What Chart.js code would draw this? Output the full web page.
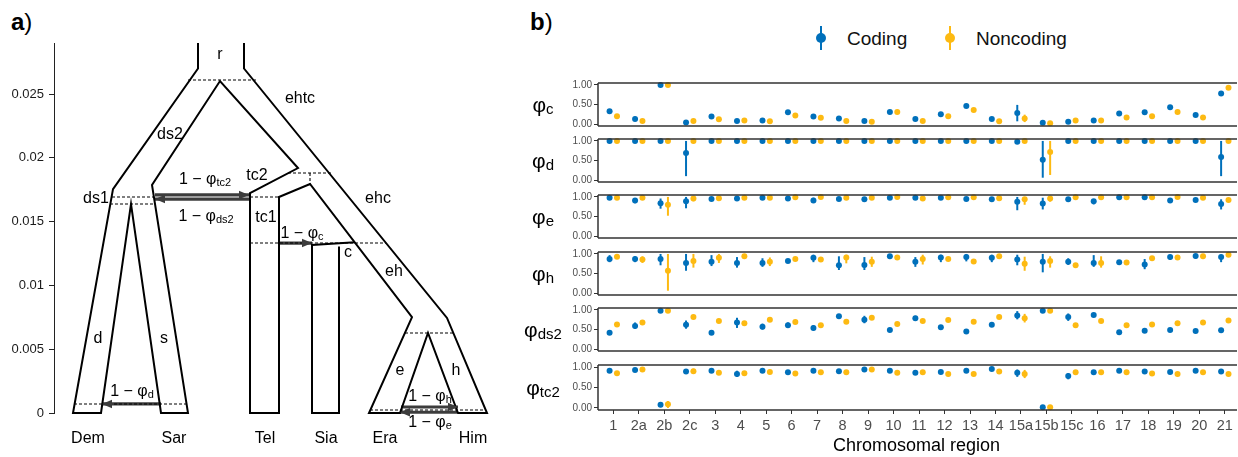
<!DOCTYPE html>
<html><head><meta charset="utf-8">
<script src="https://cdn.jsdelivr.net/npm/chart.js@4.4.1/dist/chart.umd.min.js"></script>
<style>
html,body{margin:0;padding:0;background:#fff;width:1238px;height:457px;overflow:hidden;position:relative;font-family:"Liberation Sans",Arial,sans-serif}
.cv{position:absolute}
.tag{position:absolute;font-size:24px;color:#000;line-height:1;white-space:nowrap}
.lg{position:absolute;font-size:19px;color:#111;line-height:1;white-space:nowrap}
.lgline{position:absolute;width:2px;height:24px;top:26px}
.lgdot{position:absolute;width:10px;height:10px;border-radius:50%;top:32.5px}
</style></head><body>
<div class="tag" style="left:11px;top:10px"><b>a</b>)</div>
<div class="tag" style="left:530px;top:10px"><b>b</b>)</div>

<div class="lgline" style="left:820px;background:#0070bb"></div>
<div class="lgdot" style="left:816px;background:#0070bb"></div>
<div class="lg" style="left:847px;top:29px">Coding</div>
<div class="lgline" style="left:949px;background:#fdba12"></div>
<div class="lgdot" style="left:945px;background:#fdba12"></div>
<div class="lg" style="left:976px;top:29px">Noncoding</div>

<canvas id="tree" class="cv" style="left:0;top:0" width="520" height="457"></canvas>
<canvas id="f0" class="cv"></canvas>
<canvas id="f1" class="cv"></canvas>
<canvas id="f2" class="cv"></canvas>
<canvas id="f3" class="cv"></canvas>
<canvas id="f4" class="cv"></canvas>
<canvas id="f5" class="cv"></canvas>
<script>
// ---------------- data: panel a (population tree, x = layout position, y = time) ----------------
const TIME_TICKS = [0, 0.005, 0.01, 0.015, 0.02, 0.025];
const treeOutline = [[198,0.029],[198,0.0270],[113,0.01755],[73,0],[101,0],[131,0.01638],[161,0],[188,0],[152,0.01787],[220,0.02602],[298,0.0192],[250,0.01724],[250,0],[279,0],[279,0.01693],[310,0.01795],[412,0.00752],[369,0],[400,0],[428,0.00627],[458,0],[487,0],[447,0.00745],[244,0.0270],[244,0.029]];
const siaOutline = [[355,0.01338],[312,0.01317],[312,0],[339,0],[339,0.01305]];
const splitLines = [
  [[188,0.0261],[256,0.0261]],
  [[112,0.01693],[154,0.01693]],
  [[110,0.01638],[154,0.01638]],
  [[250,0.01693],[279,0.01693]],
  [[288,0.01881],[331,0.01881]],
  [[310,0.01881],[310,0.01795]],
  [[250,0.01332],[386,0.01332]],
  [[405,0.00627],[453,0.00627]],
  [[74,0.00071],[187,0.00071]],
  [[370,0.00024],[486,0.00024]]
];
const migrationArrows = [
  [[161,0.00071],[102,0.00071]],
  [[155,0.01709],[249,0.01709]],
  [[249,0.01677],[155,0.01677]],
  [[279,0.01332],[312,0.01332]],
  [[401,0.00047],[458,0.00047]],
  [[457,0.00006],[400,0.00006]]
];
const branchLabels = ['r','ds2','ehtc','tc2','ds1','tc1','ehc','c','eh','d','s','e','h'];
const branchLabelX = [220,170,300,257,96,266,378,348,394,98,164,400,456];
const branchLabelY = [0.02806,0.02179,0.02461,0.01857,0.01677,0.01528,0.01677,0.01254,0.01105,0.0058,0.0058,0.00329,0.00329];
const populations = ['Dem','Sar','Tel','Sia','Era','Him'];
const populationX = [88,174,265,326,385,473];
const migrationSubs = ['d','tc2','ds2','c','h','e'];
const migrationLabelX = [132,205,206,302,430,430];
const migrationLabelY = [0.0018,0.01842,0.01552,0.01418,0.00145,-0.00066];

// ---------------- data: panel b ----------------
const CATEGORIES = ['1','2a','2b','2c','3','4','5','6','7','8','9','10','11','12','13','14','15a','15b','15c','16','17','18','19','20','21'];
const Y_TICKS = [0, 0.25, 0.5, 0.75, 1];
const SERIES = ['Coding','Noncoding'];

const phiC_coding    = [0.33,0.13,1.00,0.04,0.19,0.08,0.09,0.30,0.19,0.14,0.08,0.31,0.13,0.25,0.46,0.13,0.28,0.03,0.06,0.09,0.27,0.30,0.43,0.23,0.78];
const phiC_noncoding = [0.20,0.08,1.00,0.08,0.12,0.09,0.07,0.22,0.16,0.08,0.06,0.31,0.08,0.20,0.36,0.07,0.14,0.02,0.09,0.09,0.17,0.20,0.31,0.17,0.93];
const phiC_codingCI    = {'2a':[0.09,0.19],'15a':[0.07,0.49],'21':[0.73,0.83]};
const phiC_noncodingCI = {'15a':[0.05,0.24]};

const phiD_coding    = [1,1,1,0.69,1,1,1,1,1,1,1,1,1,1,1,1,0.98,0.52,1,1,1,1,1,1,0.59];
const phiD_noncoding = [1,1,1,1,1,1,1,1,1,1,1,1,1,1,1,1,1,0.72,1,1,1,1,1,1,1];
const phiD_codingCI    = {'2c':[0.10,1],'15b':[0.06,1],'21':[0.10,1]};
const phiD_noncodingCI = {'15b':[0.13,1]};

const phiE_coding    = [0.98,0.91,0.84,0.89,0.95,0.96,0.98,0.96,0.91,0.95,0.94,0.98,0.98,0.98,0.95,0.94,0.88,0.83,0.94,0.89,0.99,0.99,0.91,0.92,0.82];
const phiE_noncoding = [0.98,0.98,0.80,0.96,0.97,0.98,0.98,0.99,1.00,0.98,0.98,1.00,0.96,0.99,0.99,0.97,0.94,0.96,0.99,0.99,0.99,0.99,1.00,0.98,0.92];
const phiE_codingCI    = {'2a':[0.84,0.97],'2b':[0.70,0.96],'2c':[0.71,1],'7':[0.85,0.98],'8':[0.90,1],'9':[0.90,0.99],'15a':[0.66,1],'15b':[0.68,0.98],'16':[0.81,0.94],'21':[0.68,0.94]};
const phiE_noncodingCI = {'2b':[0.52,1],'2c':[0.89,1],'15a':[0.80,1],'15b':[0.88,1]};

const phiH_coding    = [0.87,0.87,0.87,0.77,0.80,0.77,0.77,0.82,0.90,0.71,0.72,0.94,0.80,0.91,0.92,0.90,0.86,0.80,0.80,0.77,0.79,0.73,0.92,0.95,0.92];
const phiH_noncoding = [0.93,0.86,0.57,0.82,0.90,0.94,0.80,0.87,0.86,0.91,0.80,0.91,0.87,0.87,0.81,0.94,0.75,0.82,0.71,0.77,0.78,0.89,0.91,0.94,0.98];
const phiH_codingCI    = {'1':[0.79,0.97],'2a':[0.79,0.94],'2b':[0.71,1],'2c':[0.57,1],'3':[0.69,0.97],'4':[0.65,0.92],'5':[0.67,0.89],'7':[0.79,0.98],'8':[0.59,0.94],'9':[0.59,0.92],'10':[0.87,0.98],'11':[0.67,0.92],'12':[0.79,0.98],'13':[0.81,1],'14':[0.79,0.98],'15a':[0.71,0.98],'15b':[0.53,1],'15c':[0.72,0.89],'16':[0.67,0.97],'18':[0.61,0.87],'19':[0.85,0.98],'20':[0.88,1],'21':[0.79,0.98]};
const phiH_noncodingCI = {'2a':[0.77,0.94],'2b':[0.06,1],'2c':[0.65,1],'3':[0.77,1],'4':[0.87,1],'5':[0.69,0.91],'8':[0.76,0.98],'9':[0.67,0.93],'11':[0.73,0.98],'14':[0.88,0.98],'15a':[0.57,0.93],'15b':[0.65,0.94],'16':[0.65,0.94],'20':[0.87,1]};

const phiDs2_coding    = [0.42,0.59,0.98,0.62,0.42,0.68,0.57,0.61,0.54,0.84,0.75,0.49,0.79,0.56,0.45,0.62,0.86,0.98,0.82,0.87,0.43,0.47,0.49,0.46,0.48];
const phiDs2_noncoding = [0.63,0.68,0.98,0.82,0.72,0.66,0.75,0.69,0.61,0.70,0.80,0.64,0.72,0.74,0.70,0.82,0.79,0.98,0.61,0.72,0.61,0.63,0.66,0.68,0.73];
const phiDs2_codingCI    = {'2a':[0.52,0.68],'2c':[0.52,0.73],'4':[0.54,0.80],'5':[0.50,0.65],'6':[0.55,0.68],'7':[0.48,0.61],'9':[0.66,0.85],'11':[0.73,0.85],'15a':[0.76,0.97],'15c':[0.72,0.91],'21':[0.43,0.54]};
const phiDs2_noncodingCI = {'15a':[0.68,0.90]};

const phiTc2_coding    = [0.91,0.93,0.08,0.89,0.91,0.83,0.91,0.87,0.91,0.90,0.94,0.91,0.86,0.88,0.91,0.95,0.86,0.02,0.78,0.87,0.91,0.89,0.88,0.91,0.89];
const phiTc2_noncoding = [0.85,0.94,0.09,0.90,0.86,0.85,0.88,0.84,0.87,0.87,0.94,0.86,0.87,0.83,0.83,0.89,0.83,0.02,0.87,0.87,0.87,0.84,0.83,0.87,0.83];
const phiTc2_codingCI    = {'2b':[0.02,0.13],'2c':[0.83,0.94],'4':[0.76,0.91],'15a':[0.76,0.94],'15c':[0.70,0.85]};
const phiTc2_noncodingCI = {'2b':[0,0.17],'2c':[0.84,0.96],'15a':[0.73,0.93]};

const facetSubscripts = ['c','d','e','h','ds2','tc2'];

// ---------------- styling ----------------
const FONT = '"Liberation Sans", Arial, sans-serif';
const BLUE = '#0070bb', YELLOW = '#fdba12';
const DODGE = 0.145;
Chart.defaults.font.family = FONT;
Chart.defaults.animation = false;

function richText(ctx, main, sub, x, y, mainSize, subSize, subDrop, align) {
  ctx.save();
  ctx.font = mainSize + 'px ' + FONT;
  const w1 = ctx.measureText(main).width;
  ctx.font = subSize + 'px ' + FONT;
  const w2 = sub ? ctx.measureText(sub).width : 0;
  let x0 = align === 'center' ? x - (w1 + w2) / 2 : x;
  ctx.textBaseline = 'alphabetic';
  ctx.textAlign = 'left';
  ctx.fillStyle = '#000';
  ctx.font = mainSize + 'px ' + FONT;
  ctx.fillText(main, x0, y);
  if (sub) { ctx.font = subSize + 'px ' + FONT; ctx.fillText(sub, x0 + w1, y + subDrop); }
  ctx.restore();
}

// ---------------- panel a ----------------
const pts = a => a.map(p => ({x: p[0], y: p[1]}));
const treeDatasets = [];
treeDatasets.push({data: pts(treeOutline), borderColor: '#000', borderWidth: 2});
treeDatasets.push({data: pts(siaOutline), borderColor: '#000', borderWidth: 2});
splitLines.forEach(l => treeDatasets.push({data: pts(l), borderColor: '#000', borderWidth: 1.1, borderDash: [3, 2]}));
migrationArrows.forEach(l => treeDatasets.push({data: pts(l), borderColor: '#3c3c3c', borderWidth: 3.2, isArrow: true}));
treeDatasets.forEach(d => { d.showLine = true; d.pointRadius = 0; d.fill = false; d.tension = 0; d.clip = false; d.borderCapStyle = 'butt'; d.borderJoinStyle = 'miter'; });

const treePlugin = {
  id: 'treeDecor',
  afterDatasetsDraw(chart) {
    const ctx = chart.ctx, xs = chart.scales.x, ys = chart.scales.y;
    chart.data.datasets.forEach(ds => {
      if (!ds.isArrow) return;
      const n = ds.data.length;
      const x1 = xs.getPixelForValue(ds.data[n - 2].x), y1 = ys.getPixelForValue(ds.data[n - 2].y);
      const x2 = xs.getPixelForValue(ds.data[n - 1].x), y2 = ys.getPixelForValue(ds.data[n - 1].y);
      const ang = Math.atan2(y2 - y1, x2 - x1), L = 10, W = 4.2;
      ctx.save();
      ctx.fillStyle = '#3c3c3c';
      ctx.beginPath();
      ctx.moveTo(x2, y2);
      ctx.lineTo(x2 - L * Math.cos(ang) + W * Math.sin(ang), y2 - L * Math.sin(ang) - W * Math.cos(ang));
      ctx.lineTo(x2 - L * Math.cos(ang) - W * Math.sin(ang), y2 - L * Math.sin(ang) + W * Math.cos(ang));
      ctx.closePath();
      ctx.fill();
      ctx.restore();
    });
    ctx.save();
    ctx.fillStyle = '#000';
    ctx.font = '16px ' + FONT;
    ctx.textAlign = 'center';
    ctx.textBaseline = 'middle';
    branchLabels.forEach((t, i) => ctx.fillText(t, xs.getPixelForValue(branchLabelX[i]), ys.getPixelForValue(branchLabelY[i])));
    populations.forEach((t, i) => ctx.fillText(t, xs.getPixelForValue(populationX[i]), ys.getPixelForValue(-0.00204)));
    ctx.restore();
    migrationSubs.forEach((s, i) => {
      richText(ctx, '1 \u2212 \u03c6', s, xs.getPixelForValue(migrationLabelX[i]), ys.getPixelForValue(migrationLabelY[i]) + 6, 16, 11, 2, 'center');
    });
  }
};

new Chart(document.getElementById('tree'), {
  type: 'scatter',
  data: {datasets: treeDatasets},
  options: {
    responsive: false, animation: false,
    layout: {padding: {top: 43, bottom: 44, right: 20, left: 0}},
    plugins: {legend: {display: false}, tooltip: {enabled: false}},
    scales: {
      x: {type: 'linear', display: false, min: 54, max: 500},
      y: {
        type: 'linear', min: 0, max: 0.029,
        afterFit: s => { s.width = 54; },
        afterBuildTicks: s => { s.ticks = TIME_TICKS.map(v => ({value: v})); },
        ticks: {font: {size: 13}, color: '#1a1a1a', padding: 5, callback: v => String(Number(v.toFixed(3)))},
        grid: {drawOnChartArea: false, drawTicks: true, tickLength: 5, color: '#222', lineWidth: 1},
        border: {display: true, color: '#222', width: 1}
      }
    }
  },
  plugins: [treePlugin]
});

// ---------------- panel b ----------------
const facetCoding = [phiC_coding, phiD_coding, phiE_coding, phiH_coding, phiDs2_coding, phiTc2_coding];
const facetNoncoding = [phiC_noncoding, phiD_noncoding, phiE_noncoding, phiH_noncoding, phiDs2_noncoding, phiTc2_noncoding];
const facetCodingCI = [phiC_codingCI, phiD_codingCI, phiE_codingCI, phiH_codingCI, phiDs2_codingCI, phiTc2_codingCI];
const facetNoncodingCI = [phiC_noncodingCI, phiD_noncodingCI, phiE_noncodingCI, phiH_noncodingCI, phiDs2_noncodingCI, phiTc2_noncodingCI];
const panelTops = [81, 137, 193, 250, 306, 363];
const PANEL_H = 47, PAD = 6, LEFT = 520, WIDTH = 718;

function facetPlugin(k) {
  return {
    id: 'facet' + k,
    beforeDatasetsDraw(chart) {
      const ctx = chart.ctx, xs = chart.scales.x, ys = chart.scales.y;
      const cis = [facetCodingCI[k], facetNoncodingCI[k]], cols = [BLUE, YELLOW], off = [-DODGE, DODGE];
      ctx.save();
      ctx.lineWidth = 2;
      ctx.lineCap = 'butt';
      cis.forEach((ci, s) => {
        ctx.strokeStyle = cols[s];
        Object.keys(ci).forEach(cat => {
          const i = CATEGORIES.indexOf(cat);
          const x = xs.getPixelForValue(i + off[s]);
          ctx.beginPath();
          ctx.moveTo(x, ys.getPixelForValue(ci[cat][0]));
          ctx.lineTo(x, ys.getPixelForValue(ci[cat][1]));
          ctx.stroke();
        });
      });
      ctx.restore();
    },
    afterDraw(chart) {
      const ctx = chart.ctx, a = chart.chartArea;
      ctx.save();
      ctx.strokeStyle = '#333';
      ctx.lineWidth = 1.5;
      ctx.beginPath();
      ctx.moveTo(a.left, a.top); ctx.lineTo(a.right + 2, a.top);
      ctx.moveTo(a.left, a.bottom); ctx.lineTo(a.right + 2, a.bottom);
      ctx.moveTo(a.left, a.top); ctx.lineTo(a.left, a.bottom);
      ctx.stroke();
      ctx.restore();
      const cy = (a.top + a.bottom) / 2;
      richText(ctx, '\u03c6', facetSubscripts[k], 23, cy + 7, 21, 15, 2, 'center');
    }
  };
}

for (let k = 0; k < 6; k++) {
  const cv = document.getElementById('f' + k);
  const isLast = k === 5;
  const top = panelTops[k] - PAD;
  const h = isLast ? 457 - top : PANEL_H + 2 * PAD;
  cv.width = WIDTH; cv.height = h;
  cv.style.left = LEFT + 'px'; cv.style.top = top + 'px';
  new Chart(cv, {
    type: 'scatter',
    data: {datasets: [
      {label: SERIES[0], data: facetCoding[k].map((v, i) => ({x: i - DODGE, y: v})), backgroundColor: BLUE, borderWidth: 0, pointRadius: 3, pointHoverRadius: 3, clip: false},
      {label: SERIES[1], data: facetNoncoding[k].map((v, i) => ({x: i + DODGE, y: v})), backgroundColor: YELLOW, borderWidth: 0, pointRadius: 3, pointHoverRadius: 3, clip: false}
    ]},
    options: {
      responsive: false, animation: false,
      layout: {padding: {top: PAD, bottom: isLast ? 0 : PAD, left: 0, right: 0}},
      plugins: {legend: {display: false}, tooltip: {enabled: false}},
      scales: {
        x: {
          type: 'linear', min: -0.6, max: 24.4, display: isLast,
          afterFit: s => { if (isLast) s.height = 457 - 410; },
          afterBuildTicks: s => { s.ticks = CATEGORIES.map((c, i) => ({value: i})); },
          ticks: {autoSkip: false, maxRotation: 0, font: {size: 14.5}, color: '#4d4d4d', padding: 3, callback: v => CATEGORIES[v]},
          grid: {drawOnChartArea: false, drawTicks: true, tickLength: 4, color: '#333'},
          border: {display: false},
          title: {display: true, text: 'Chromosomal region', font: {size: 18}, color: '#000', padding: {top: 0, bottom: 0}}
        },
        y: {
          type: 'linear', min: -0.05, max: 1.05,
          afterFit: s => { s.width = 78; },
          afterBuildTicks: s => { s.ticks = Y_TICKS.map(v => ({value: v})); },
          ticks: {font: {size: 10}, color: '#4d4d4d', padding: 2, callback: v => v.toFixed(2)},
          grid: {drawOnChartArea: false, drawTicks: true, tickLength: 4, color: '#333'},
          border: {display: false}
        }
      }
    },
    plugins: [facetPlugin(k)]
  });
}
</script>
</body></html>
